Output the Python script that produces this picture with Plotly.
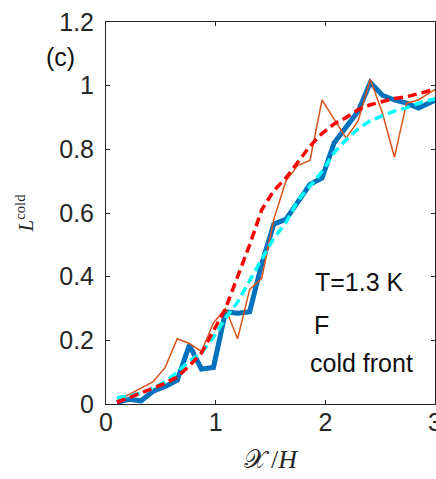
import plotly.graph_objects as go

# Streamwise position X/H at which the cold-fluid fraction was sampled
x_pos = [0.10, 0.21, 0.32, 0.43, 0.54, 0.65, 0.76, 0.87, 0.98, 1.09,
         1.20, 1.31, 1.42, 1.53, 1.64, 1.75, 1.86, 1.97, 2.08, 2.19,
         2.30, 2.41, 2.52, 2.63, 2.74, 2.85, 2.96, 3.07]

# Measured / simulated cold-front length fractions
l_blue = [0.005, 0.015, 0.010, 0.040, 0.055, 0.075, 0.185, 0.110, 0.115, 0.290,
          0.285, 0.290, 0.440, 0.565, 0.580, 0.635, 0.690, 0.710, 0.820, 0.870,
          0.920, 1.010, 0.970, 0.955, 0.945, 0.930, 0.950, 0.965]
l_orange = [0.010, 0.030, 0.050, 0.070, 0.115, 0.205, 0.190, 0.165, 0.255, 0.300,
            0.205, 0.360, 0.395, 0.580, 0.700, 0.750, 0.765, 0.955, 0.895, 0.835,
            0.890, 1.020, 0.915, 0.775, 0.945, 0.955, 0.980, 1.000]
l_red = [0.005, 0.020, 0.035, 0.050, 0.065, 0.085, 0.120, 0.160, 0.230, 0.300,
         0.400, 0.500, 0.610, 0.670, 0.710, 0.760, 0.810, 0.850, 0.880, 0.900,
         0.925, 0.940, 0.950, 0.960, 0.965, 0.975, 0.985, 0.990]
l_cyan = [0.020, 0.025, 0.035, 0.050, 0.070, 0.100, 0.135, 0.160, 0.210, 0.270,
          0.320, 0.390, 0.455, 0.520, 0.570, 0.640, 0.685, 0.730, 0.790, 0.830,
          0.865, 0.890, 0.905, 0.920, 0.930, 0.945, 0.955, 0.965]

x_ticks = [0, 1, 2, 3]
y_ticks = [0, 0.2, 0.4, 0.6, 0.8, 1.0, 1.2]
y_tick_text = ["0", "0.2", "0.4", "0.6", "0.8", "1", "1.2"]

AX = "#262626"
SANS = "Liberation Sans, Arial, sans-serif"
SERIF = "Liberation Serif, Times New Roman, serif"

fig = go.Figure()
fig.add_trace(go.Scatter(x=x_pos, y=l_blue, mode="lines",
                         line=dict(color="#0072BD", width=5)))
fig.add_trace(go.Scatter(x=x_pos, y=l_orange, mode="lines",
                         line=dict(color="#D95319", width=1.5)))
fig.add_trace(go.Scatter(x=x_pos, y=l_cyan, mode="lines",
                         line=dict(color="#00FFFF", width=3.5, dash="9px,5px")))
fig.add_trace(go.Scatter(x=x_pos, y=l_red, mode="lines",
                         line=dict(color="#FF0000", width=3.5, dash="9px,5px")))

axis_common = dict(showgrid=False, zeroline=False, showline=True, linecolor=AX,
                   linewidth=1, mirror="ticks", ticks="inside", ticklen=4,
                   automargin=False,
                   tickcolor=AX, tickfont=dict(family=SANS, size=25, color=AX))

fig.update_xaxes(range=[0, 3], tickvals=x_ticks, ticktext=[str(v) for v in x_ticks],
                 ticklabeloverflow="allow", ticklabelstandoff=-4,
                 title=dict(text="𝒳\u2009/<i>H</i>",
                            font=dict(family=SERIF, size=26, color=AX), standoff=14),
                 **axis_common)
fig.update_yaxes(range=[0, 1.2], tickvals=y_ticks, ticktext=y_tick_text,
                 ticklabelstandoff=6,
                 title=dict(text="<i>L</i><sup>cold</sup>",
                            font=dict(family=SERIF, size=21, color=AX), standoff=19),
                 **axis_common)

txt = dict(family=SANS, size=25, color="#111111")
fig.add_annotation(x=-0.137, y=0.908, xref="paper", yref="paper", text="(c)",
                   xanchor="center", yanchor="middle", showarrow=False, font=txt)
fig.add_annotation(x=1.89, y=0.382, xref="x", yref="y", text="T=1.3 K", showarrow=False,
                   xanchor="left", font=txt)
fig.add_annotation(x=1.88, y=0.248, xref="x", yref="y", text="F", showarrow=False,
                   xanchor="left", font=txt)
fig.add_annotation(x=1.845, y=0.13, xref="x", yref="y", text="cold front", showarrow=False,
                   xanchor="left", font=txt)

fig.update_layout(width=436, height=479, showlegend=False,
                  paper_bgcolor="white", plot_bgcolor="white",
                  margin=dict(l=106, r=1, t=22, b=75))

fig.write_html("out.html")
